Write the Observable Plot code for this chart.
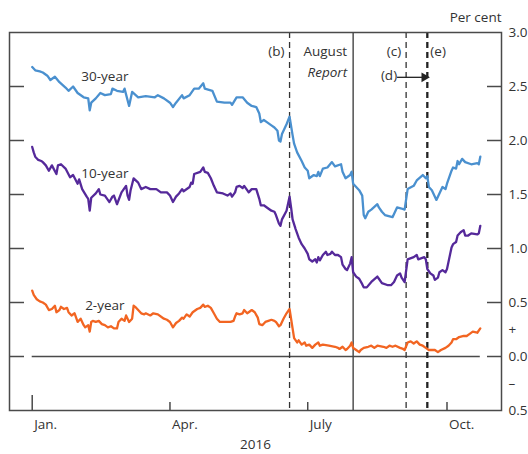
<!DOCTYPE html>
<html>
<head>
<meta charset="utf-8">
<script src="https://cdn.jsdelivr.net/npm/d3@7"></script>
<script src="https://cdn.jsdelivr.net/npm/@observablehq/plot@0.6"></script>
<style>
  html, body { margin: 0; padding: 0; background: #fff; }
  #chart { width: 528px; height: 454px; }
</style>
</head>
<body>
<div id="chart"></div>
<script>
// ---- Data (per cent) ----
const thirtyYearDates = ["2016-01-01","2016-01-03","2016-01-06","2016-01-08","2016-01-11","2016-01-13","2016-01-16","2016-01-19","2016-01-23","2016-01-25","2016-01-28","2016-01-31","2016-02-04","2016-02-07","2016-02-08","2016-02-09","2016-02-12","2016-02-15","2016-02-18","2016-02-22","2016-02-23","2016-02-26","2016-03-01","2016-03-02","2016-03-05","2016-03-07","2016-03-11","2016-03-16","2016-03-22","2016-03-24","2016-03-28","2016-04-01","2016-04-03","2016-04-05","2016-04-09","2016-04-10","2016-04-14","2016-04-17","2016-04-20","2016-04-23","2016-04-24","2016-04-29","2016-05-02","2016-05-07","2016-05-11","2016-05-12","2016-05-15","2016-05-19","2016-05-22","2016-05-25","2016-05-28","2016-05-30","2016-05-31","2016-06-02","2016-06-04","2016-06-07","2016-06-09","2016-06-11","2016-06-12","2016-06-13","2016-06-14","2016-06-17","2016-06-19","2016-06-21","2016-06-22","2016-06-24","2016-06-27","2016-06-29","2016-07-01","2016-07-02","2016-07-05","2016-07-07","2016-07-08","2016-07-09","2016-07-11","2016-07-14","2016-07-17","2016-07-19","2016-07-23","2016-07-24","2016-07-26","2016-07-29","2016-07-30","2016-07-31","2016-08-04","2016-08-06","2016-08-07","2016-08-08","2016-08-10","2016-08-12","2016-08-16","2016-08-17","2016-08-19","2016-08-21","2016-08-26","2016-08-27","2016-08-29","2016-09-01","2016-09-03","2016-09-05","2016-09-09","2016-09-11","2016-09-15","2016-09-17","2016-09-18","2016-09-19","2016-09-21","2016-09-24","2016-09-26","2016-09-28","2016-09-30","2016-10-01","2016-10-04","2016-10-05","2016-10-07","2016-10-08","2016-10-09","2016-10-11","2016-10-13","2016-10-17","2016-10-21","2016-10-22","2016-10-23"];
const thirtyYearValues = [2.68,2.65,2.64,2.63,2.60,2.56,2.59,2.54,2.49,2.46,2.50,2.44,2.40,2.39,2.28,2.35,2.39,2.44,2.42,2.43,2.48,2.46,2.45,2.48,2.32,2.45,2.40,2.41,2.40,2.42,2.39,2.35,2.31,2.35,2.42,2.39,2.42,2.48,2.48,2.53,2.48,2.46,2.36,2.35,2.35,2.33,2.40,2.40,2.35,2.32,2.31,2.25,2.17,2.19,2.17,2.14,2.12,2.09,2.00,1.99,2.06,2.15,2.22,2.05,1.97,1.89,1.81,1.75,1.72,1.65,1.68,1.67,1.71,1.67,1.74,1.75,1.80,1.76,1.78,1.71,1.65,1.68,1.71,1.60,1.54,1.49,1.31,1.28,1.34,1.36,1.41,1.38,1.34,1.31,1.29,1.32,1.38,1.37,1.36,1.55,1.58,1.63,1.68,1.65,1.67,1.57,1.54,1.45,1.51,1.57,1.55,1.60,1.72,1.75,1.74,1.81,1.78,1.83,1.80,1.78,1.79,1.78,1.85];

const tenYearDates = ["2016-01-01","2016-01-02","2016-01-03","2016-01-05","2016-01-07","2016-01-08","2016-01-10","2016-01-12","2016-01-14","2016-01-17","2016-01-18","2016-01-20","2016-01-23","2016-01-26","2016-01-28","2016-01-31","2016-02-01","2016-02-03","2016-02-06","2016-02-07","2016-02-08","2016-02-09","2016-02-12","2016-02-14","2016-02-15","2016-02-18","2016-02-21","2016-02-23","2016-02-24","2016-02-26","2016-02-29","2016-03-03","2016-03-04","2016-03-05","2016-03-06","2016-03-08","2016-03-11","2016-03-13","2016-03-16","2016-03-19","2016-03-23","2016-03-26","2016-03-30","2016-04-01","2016-04-03","2016-04-05","2016-04-07","2016-04-09","2016-04-10","2016-04-14","2016-04-15","2016-04-16","2016-04-17","2016-04-21","2016-04-23","2016-04-24","2016-04-26","2016-04-28","2016-04-30","2016-05-02","2016-05-06","2016-05-09","2016-05-11","2016-05-12","2016-05-14","2016-05-15","2016-05-17","2016-05-19","2016-05-20","2016-05-22","2016-05-23","2016-05-25","2016-05-28","2016-05-30","2016-05-31","2016-06-02","2016-06-04","2016-06-07","2016-06-09","2016-06-10","2016-06-12","2016-06-13","2016-06-14","2016-06-17","2016-06-19","2016-06-20","2016-06-21","2016-06-23","2016-06-25","2016-06-27","2016-06-29","2016-07-01","2016-07-02","2016-07-04","2016-07-06","2016-07-07","2016-07-08","2016-07-09","2016-07-11","2016-07-13","2016-07-14","2016-07-16","2016-07-17","2016-07-19","2016-07-21","2016-07-23","2016-07-24","2016-07-26","2016-07-27","2016-07-29","2016-07-30","2016-07-31","2016-08-02","2016-08-04","2016-08-06","2016-08-07","2016-08-09","2016-08-12","2016-08-16","2016-08-17","2016-08-19","2016-08-23","2016-08-25","2016-08-27","2016-08-29","2016-08-31","2016-09-01","2016-09-03","2016-09-05","2016-09-09","2016-09-11","2016-09-12","2016-09-16","2016-09-17","2016-09-18","2016-09-20","2016-09-22","2016-09-23","2016-09-25","2016-09-26","2016-09-28","2016-09-30","2016-10-01","2016-10-04","2016-10-05","2016-10-07","2016-10-08","2016-10-10","2016-10-12","2016-10-13","2016-10-15","2016-10-17","2016-10-21","2016-10-22","2016-10-23"];
const tenYearValues = [1.94,1.89,1.85,1.82,1.81,1.80,1.77,1.72,1.77,1.69,1.77,1.78,1.74,1.66,1.68,1.60,1.64,1.55,1.48,1.46,1.35,1.47,1.51,1.55,1.50,1.49,1.43,1.48,1.49,1.41,1.52,1.58,1.49,1.45,1.54,1.65,1.61,1.55,1.57,1.55,1.55,1.52,1.52,1.49,1.43,1.48,1.51,1.55,1.53,1.57,1.61,1.60,1.69,1.71,1.75,1.71,1.70,1.65,1.58,1.52,1.51,1.49,1.51,1.48,1.52,1.57,1.58,1.56,1.58,1.54,1.52,1.55,1.55,1.46,1.40,1.40,1.38,1.35,1.34,1.31,1.23,1.21,1.27,1.35,1.48,1.38,1.27,1.18,1.10,1.04,1.00,0.95,0.90,0.88,0.90,0.87,0.92,0.89,0.94,0.97,0.94,0.95,0.97,0.94,0.94,0.92,0.85,0.81,0.80,0.86,0.92,0.78,0.74,0.72,0.67,0.64,0.64,0.69,0.74,0.72,0.68,0.66,0.66,0.69,0.75,0.77,0.73,0.69,0.90,0.92,0.94,0.90,0.92,0.90,0.81,0.77,0.75,0.71,0.73,0.78,0.80,0.78,0.81,1.01,1.04,1.06,1.12,1.15,1.17,1.12,1.12,1.14,1.13,1.14,1.21];

const twoYearDates = ["2016-01-01","2016-01-02","2016-01-04","2016-01-06","2016-01-08","2016-01-10","2016-01-12","2016-01-14","2016-01-16","2016-01-17","2016-01-19","2016-01-20","2016-01-22","2016-01-24","2016-01-25","2016-01-27","2016-01-29","2016-01-30","2016-01-31","2016-02-02","2016-02-04","2016-02-05","2016-02-07","2016-02-08","2016-02-09","2016-02-10","2016-02-12","2016-02-14","2016-02-16","2016-02-18","2016-02-20","2016-02-22","2016-02-24","2016-02-26","2016-02-27","2016-02-29","2016-03-02","2016-03-03","2016-03-05","2016-03-07","2016-03-08","2016-03-09","2016-03-11","2016-03-13","2016-03-15","2016-03-16","2016-03-19","2016-03-21","2016-03-24","2016-03-28","2016-03-30","2016-04-01","2016-04-03","2016-04-05","2016-04-07","2016-04-09","2016-04-10","2016-04-12","2016-04-14","2016-04-16","2016-04-19","2016-04-21","2016-04-23","2016-04-24","2016-04-26","2016-04-28","2016-04-30","2016-05-02","2016-05-04","2016-05-07","2016-05-09","2016-05-11","2016-05-13","2016-05-14","2016-05-15","2016-05-17","2016-05-19","2016-05-20","2016-05-22","2016-05-23","2016-05-25","2016-05-27","2016-05-29","2016-05-30","2016-06-01","2016-06-03","2016-06-05","2016-06-07","2016-06-09","2016-06-10","2016-06-12","2016-06-13","2016-06-15","2016-06-17","2016-06-19","2016-06-21","2016-06-22","2016-06-24","2016-06-25","2016-06-27","2016-06-29","2016-06-30","2016-07-02","2016-07-04","2016-07-06","2016-07-08","2016-07-09","2016-07-11","2016-07-15","2016-07-19","2016-07-21","2016-07-22","2016-07-24","2016-07-26","2016-07-27","2016-07-29","2016-07-30","2016-07-31","2016-08-02","2016-08-04","2016-08-05","2016-08-07","2016-08-10","2016-08-12","2016-08-14","2016-08-16","2016-08-20","2016-08-22","2016-08-24","2016-08-26","2016-08-28","2016-08-31","2016-09-02","2016-09-03","2016-09-05","2016-09-07","2016-09-09","2016-09-11","2016-09-13","2016-09-15","2016-09-17","2016-09-19","2016-09-23","2016-09-25","2016-09-27","2016-09-30","2016-10-02","2016-10-04","2016-10-05","2016-10-07","2016-10-09","2016-10-12","2016-10-14","2016-10-16","2016-10-18","2016-10-21","2016-10-23"];
const twoYearValues = [0.61,0.57,0.53,0.51,0.50,0.48,0.43,0.44,0.47,0.41,0.43,0.46,0.44,0.45,0.41,0.38,0.40,0.36,0.32,0.35,0.29,0.27,0.29,0.23,0.32,0.33,0.32,0.33,0.30,0.29,0.27,0.28,0.26,0.26,0.32,0.35,0.33,0.38,0.32,0.35,0.47,0.46,0.43,0.40,0.39,0.40,0.38,0.40,0.39,0.35,0.34,0.32,0.27,0.31,0.33,0.36,0.35,0.39,0.37,0.41,0.44,0.45,0.48,0.46,0.47,0.45,0.40,0.35,0.32,0.32,0.32,0.32,0.33,0.37,0.40,0.39,0.40,0.43,0.40,0.41,0.43,0.41,0.36,0.30,0.29,0.32,0.33,0.34,0.33,0.32,0.28,0.29,0.35,0.40,0.44,0.26,0.17,0.13,0.15,0.11,0.13,0.10,0.11,0.08,0.11,0.13,0.10,0.11,0.10,0.09,0.08,0.07,0.09,0.06,0.07,0.10,0.13,0.08,0.06,0.04,0.06,0.08,0.09,0.10,0.08,0.10,0.09,0.08,0.10,0.09,0.10,0.08,0.07,0.06,0.13,0.14,0.12,0.14,0.11,0.10,0.08,0.06,0.06,0.04,0.06,0.08,0.10,0.13,0.16,0.16,0.18,0.19,0.19,0.21,0.23,0.22,0.26];

// Series names and label anchor points
const seriesNames = ["30-year", "10-year", "2-year"];
const seriesColors = ["#4a90cf", "#55299a", "#f26522"];
const seriesLabelDates = ["2016-02-18", "2016-02-18", "2016-02-18"];
const seriesLabelValues = [2.59, 1.69, 0.47];

// Event markers
const eventDates = ["2016-06-19", "2016-07-31", "2016-09-04", "2016-09-18"];
const eventLabels = ["(b)", "August", "(c)", "(e)"];
const eventStyles = ["dashed", "solid", "dashed", "dashed-bold"];
const dArrowStart = "2016-08-29";
const dArrowEnd = "2016-09-16";
const dArrowValue = 2.585;

// Axis ticks and labels
const monthTickDates = ["2016-01-01", "2016-04-01", "2016-07-01", "2016-10-01"];
const monthTickLabels = ["Jan.", "Apr.", "July", "Oct."];
const yearLabel = "2016";
const yInnerTicks = [0, 0.5, 1.0, 1.5, 2.0, 2.5];
const yLabelTicks = [3.0, 2.5, 2.0, 1.5, 1.0, 0.5, 0.25, 0, -0.25, -0.5];
const unitLabel = "Per cent";
const xDomain = ["2015-12-17", "2016-11-06"];
const yDomain = [-0.5, 3.0];

// ---- Build tables ----
const toRows = (dates, values) => dates.map((d, i) => ({date: new Date(d), value: values[i]}));
const series = [
  toRows(thirtyYearDates, thirtyYearValues),
  toRows(tenYearDates, tenYearValues),
  toRows(twoYearDates, twoYearValues)
];
const seriesLabels = seriesNames.map((n, i) => ({name: n, date: new Date(seriesLabelDates[i]), value: seriesLabelValues[i]}));
const events = eventDates.map((d, i) => ({date: new Date(d), label: eventLabels[i], style: eventStyles[i]}));
const monthTicks = monthTickDates.map(d => new Date(d));
const labelMap = new Map(monthTicks.map((d, i) => [+d, monthTickLabels[i]]));
const allDates = series.flat().map(d => d.date);
const firstDate = d3.min(allDates), lastDate = d3.max(allDates);

const W = 528, H = 454, mL = 9, mR = 27, mT = 32, mB = 44;
const innerW = W - mL - mR, innerH = H - mT - mB;
const ink = "#4a4a4a", textInk = "#333";

const fmtY = d => d === 0.25 ? "+" : d === -0.25 ? "\u2013" : Math.abs(d).toFixed(1);

const chart = Plot.plot({
  width: W, height: H,
  marginLeft: mL, marginRight: mR, marginTop: mT, marginBottom: mB,
  style: {fontFamily: "'Open Sans', sans-serif", fontSize: "13.5px", color: textInk, background: "#fff", overflow: "visible"},
  x: {type: "utc", domain: xDomain.map(d => new Date(d))},
  y: {domain: yDomain},
  marks: [
    // inner ticks on both sides
    Plot.tickY(yInnerTicks, {y: d => d, stroke: ink, strokeWidth: 1.5, insetRight: innerW - 15}),
    Plot.tickY(yInnerTicks, {y: d => d, stroke: ink, strokeWidth: 1.5, insetLeft: innerW - 14}),
    // zero line across the data span
    Plot.ruleY([0], {x1: firstDate, x2: lastDate, stroke: ink, strokeWidth: 1.3}),
    // bottom month ticks
    Plot.tickX(monthTicks.slice(1), {x: d => d, stroke: ink, strokeWidth: 1.5, insetTop: innerH - 8}),
    Plot.tickX(monthTicks.slice(0, 1), {x: d => d, stroke: ink, strokeWidth: 1.5, insetTop: innerH - 15}),
    // event rules
    Plot.ruleX(events.filter(e => e.style === "dashed"), {x: "date", stroke: "#333", strokeWidth: 1.3, strokeDasharray: "6,4"}),
    Plot.ruleX(events.filter(e => e.style === "dashed-bold"), {x: "date", stroke: "#222", strokeWidth: 2.3, strokeDasharray: "6,4"}),
    Plot.ruleX(events.filter(e => e.style === "solid"), {x: "date", stroke: "#444", strokeWidth: 1.4}),
    // series
    ...series.map((rows, i) => Plot.line(rows, {x: "date", y: "value", stroke: seriesColors[i], strokeWidth: 2.3, strokeLinejoin: "round"})),
    Plot.text(seriesLabels, {x: "date", y: "value", text: "name", fill: textInk, fontSize: 13.5}),
    // event labels
    Plot.text(events.filter(e => e.label === "(b)" || e.label === "(c)"), {x: "date", text: "label", frameAnchor: "top", lineAnchor: "middle", dy: 19, dx: -5, textAnchor: "end", fill: textInk}),
    Plot.text(events.filter(e => e.label === "(e)"), {x: "date", text: "label", frameAnchor: "top", lineAnchor: "middle", dy: 19, dx: 3, textAnchor: "start", fill: textInk}),
    Plot.text(events.filter(e => e.label === "August"), {x: "date", text: "label", frameAnchor: "top", lineAnchor: "middle", dy: 19, dx: -6, textAnchor: "end", fill: textInk}),
    Plot.text(events.filter(e => e.label === "August"), {x: "date", text: () => "Report", frameAnchor: "top", lineAnchor: "middle", dy: 40, dx: -6, textAnchor: "end", fill: textInk, fontStyle: "italic"}),
    Plot.text(events.filter(e => e.label === "(c)"), {x: "date", text: () => "(d)", frameAnchor: "top", lineAnchor: "middle", dy: 43, dx: -9, textAnchor: "end", fill: textInk}),
    // (d) arrow
    Plot.link([{x1: new Date(dArrowStart), x2: new Date(dArrowEnd), y: dArrowValue}], {x1: "x1", x2: "x2", y1: "y", y2: "y", stroke: "#222", strokeWidth: 1.3}),
    Plot.dot([{x: new Date(dArrowEnd), y: dArrowValue}], {x: "x", y: "y", symbol: "triangle", rotate: 90, r: 3.6, fill: "#222", stroke: "none"}),
    // frame
    Plot.frame({stroke: ink, strokeWidth: 1.5}),
    // axes
    Plot.axisY({anchor: "right", ticks: yLabelTicks, tickSize: 0, tickPadding: 7, tickFormat: fmtY, fill: textInk, fontSize: 13.5}),
    Plot.axisX({ticks: monthTicks, tickSize: 0, tickPadding: 9, tickFormat: d => labelMap.get(+d), textAnchor: "start", dx: 2, fill: textInk, fontSize: 13.5}),
    Plot.text([yearLabel], {frameAnchor: "bottom", lineAnchor: "middle", dy: 34, fill: textInk, fontSize: 13.5}),
    Plot.text([unitLabel], {frameAnchor: "top-right", lineAnchor: "middle", dy: -15, dx: 0, textAnchor: "end", fill: textInk, fontSize: 13.5})
  ]
});
document.getElementById("chart").appendChild(chart);
</script>
</body>
</html>
